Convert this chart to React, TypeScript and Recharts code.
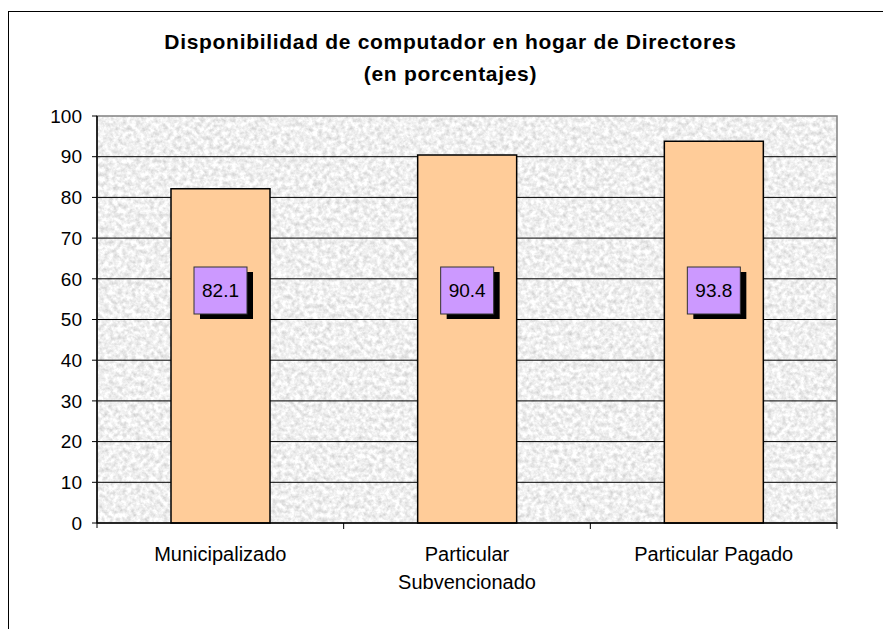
import React from "react";
import {
  BarChart,
  Bar,
  XAxis,
  YAxis,
  CartesianGrid,
  ReferenceArea,
  LabelList,
} from "recharts";

const categories = ["Municipalizado", "Particular\nSubvencionado", "Particular Pagado"];
const porcentajes = [82.1, 90.4, 93.8];
const yTicks = [0, 10, 20, 30, 40, 50, 60, 70, 80, 90, 100];
const gridValues = [10, 20, 30, 40, 50, 60, 70, 80, 90];

const data = categories.map((name, i) => ({ name, value: porcentajes[i] }));

const W = 883;
const H = 629;
const xAxisHeight = 30;
const margin = { top: 116, right: 46, bottom: 106 - xAxisHeight, left: 0 };
const yAxisWidth = 97;
const halfBand = (W - margin.right - yAxisWidth) / categories.length / 2;

const CategoryTick = (props: any) => {
  const { x, y, payload, index } = props;
  const lines = String(payload.value).split("\n");
  return (
    <g>
      <line x1={x + halfBand} y1={y} x2={x + halfBand} y2={y + 6} stroke="#000" />
      {index === 0 && <line x1={x - halfBand} y1={y} x2={x - halfBand} y2={y + 5} stroke="#000" />}
      <text x={x} y={y + 38} textAnchor="middle" fontSize={20} fill="#000">
        {lines.map((l, i) => (
          <tspan key={i} x={x} dy={i === 0 ? 0 : 28}>
            {l}
          </tspan>
        ))}
      </text>
    </g>
  );
};

// etiqueta de valor: caja lila con sombra negra, a altura fija sobre la base
const ValueLabel = (props: any) => {
  const { x, y, width, height, value } = props;
  const cx = x + width / 2;
  const cy = y + height - 232.5;
  const bw = 53;
  const bh = 47;
  return (
    <g>
      <rect x={cx - bw / 2 + 6} y={cy - bh / 2 + 5} width={bw} height={bh} fill="#000" />
      <rect x={cx - bw / 2} y={cy - bh / 2} width={bw} height={bh} fill="#CC99FF" stroke="#333" strokeWidth={1} />
      <text x={cx} y={cy} textAnchor="middle" dominantBaseline="central" fontSize={19} fill="#000">
        {value}
      </text>
    </g>
  );
};

export default function App() {
  return (
    <div
      style={{
        position: "absolute",
        left: 0,
        top: 0,
        width: W,
        height: H,
        background: "#fff",
        fontFamily: "'Liberation Sans', Arial, sans-serif",
        overflow: "hidden",
      }}
    >
      <div
        style={{
          position: "absolute",
          left: 8,
          top: 11,
          width: W,
          height: H,
          borderLeft: "1px solid #000",
          borderTop: "1px solid #000",
        }}
      />
      <div
        style={{
          position: "absolute",
          left: 50,
          top: 26,
          width: 801,
          textAlign: "center",
          fontWeight: "bold",
          fontSize: 21,
          letterSpacing: 0.7,
          lineHeight: "32px",
          color: "#000",
        }}
      >
        Disponibilidad de computador en hogar de Directores
        <br />
        (en porcentajes)
      </div>
      <div style={{ position: "absolute", left: 0, top: 0 }}>
        <BarChart width={W} height={H} data={data} margin={margin} barCategoryGap="30%">
          <defs>
            <filter id="graniteNoise" x="0" y="0" width="100%" height="100%" colorInterpolationFilters="sRGB">
              <feTurbulence type="fractalNoise" baseFrequency="0.22" numOctaves={3} seed={7} />
              <feColorMatrix
                type="matrix"
                values="0.32 0 0 0 0.78  0.32 0 0 0 0.78  0.32 0 0 0 0.78  0 0 0 0 1"
              />
            </filter>
            <pattern id="granite" patternUnits="userSpaceOnUse" width={W} height={H}>
              <rect width={W} height={H} filter="url(#graniteNoise)" />
            </pattern>
          </defs>
          <CartesianGrid
            vertical={false}
            horizontalValues={gridValues}
            stroke="#000"
            strokeWidth={1}
            fill="url(#granite)"
            fillOpacity={1}
          />
          <ReferenceArea y1={0} y2={100} fill="none" stroke="#808080" strokeWidth={1.5} ifOverflow="visible" />
          <XAxis
            dataKey="name"
            height={xAxisHeight}
            interval={0}
            tickLine={false}
            tickSize={0}
            tickMargin={0}
            axisLine={{ stroke: "#000", strokeWidth: 1.5 }}
            tick={<CategoryTick />}
          />
          <YAxis
            domain={[0, 100]}
            ticks={yTicks}
            width={yAxisWidth}
            tickSize={5}
            tickMargin={10}
            axisLine={{ stroke: "#000", strokeWidth: 1.5 }}
            tickLine={{ stroke: "#000" }}
            tick={{ fill: "#000", fontSize: 19 }}
          />
          <Bar dataKey="value" fill="#FFCC99" stroke="#000" strokeWidth={1.5} isAnimationActive={false}>
            <LabelList dataKey="value" content={<ValueLabel />} />
          </Bar>
        </BarChart>
      </div>
    </div>
  );
}
